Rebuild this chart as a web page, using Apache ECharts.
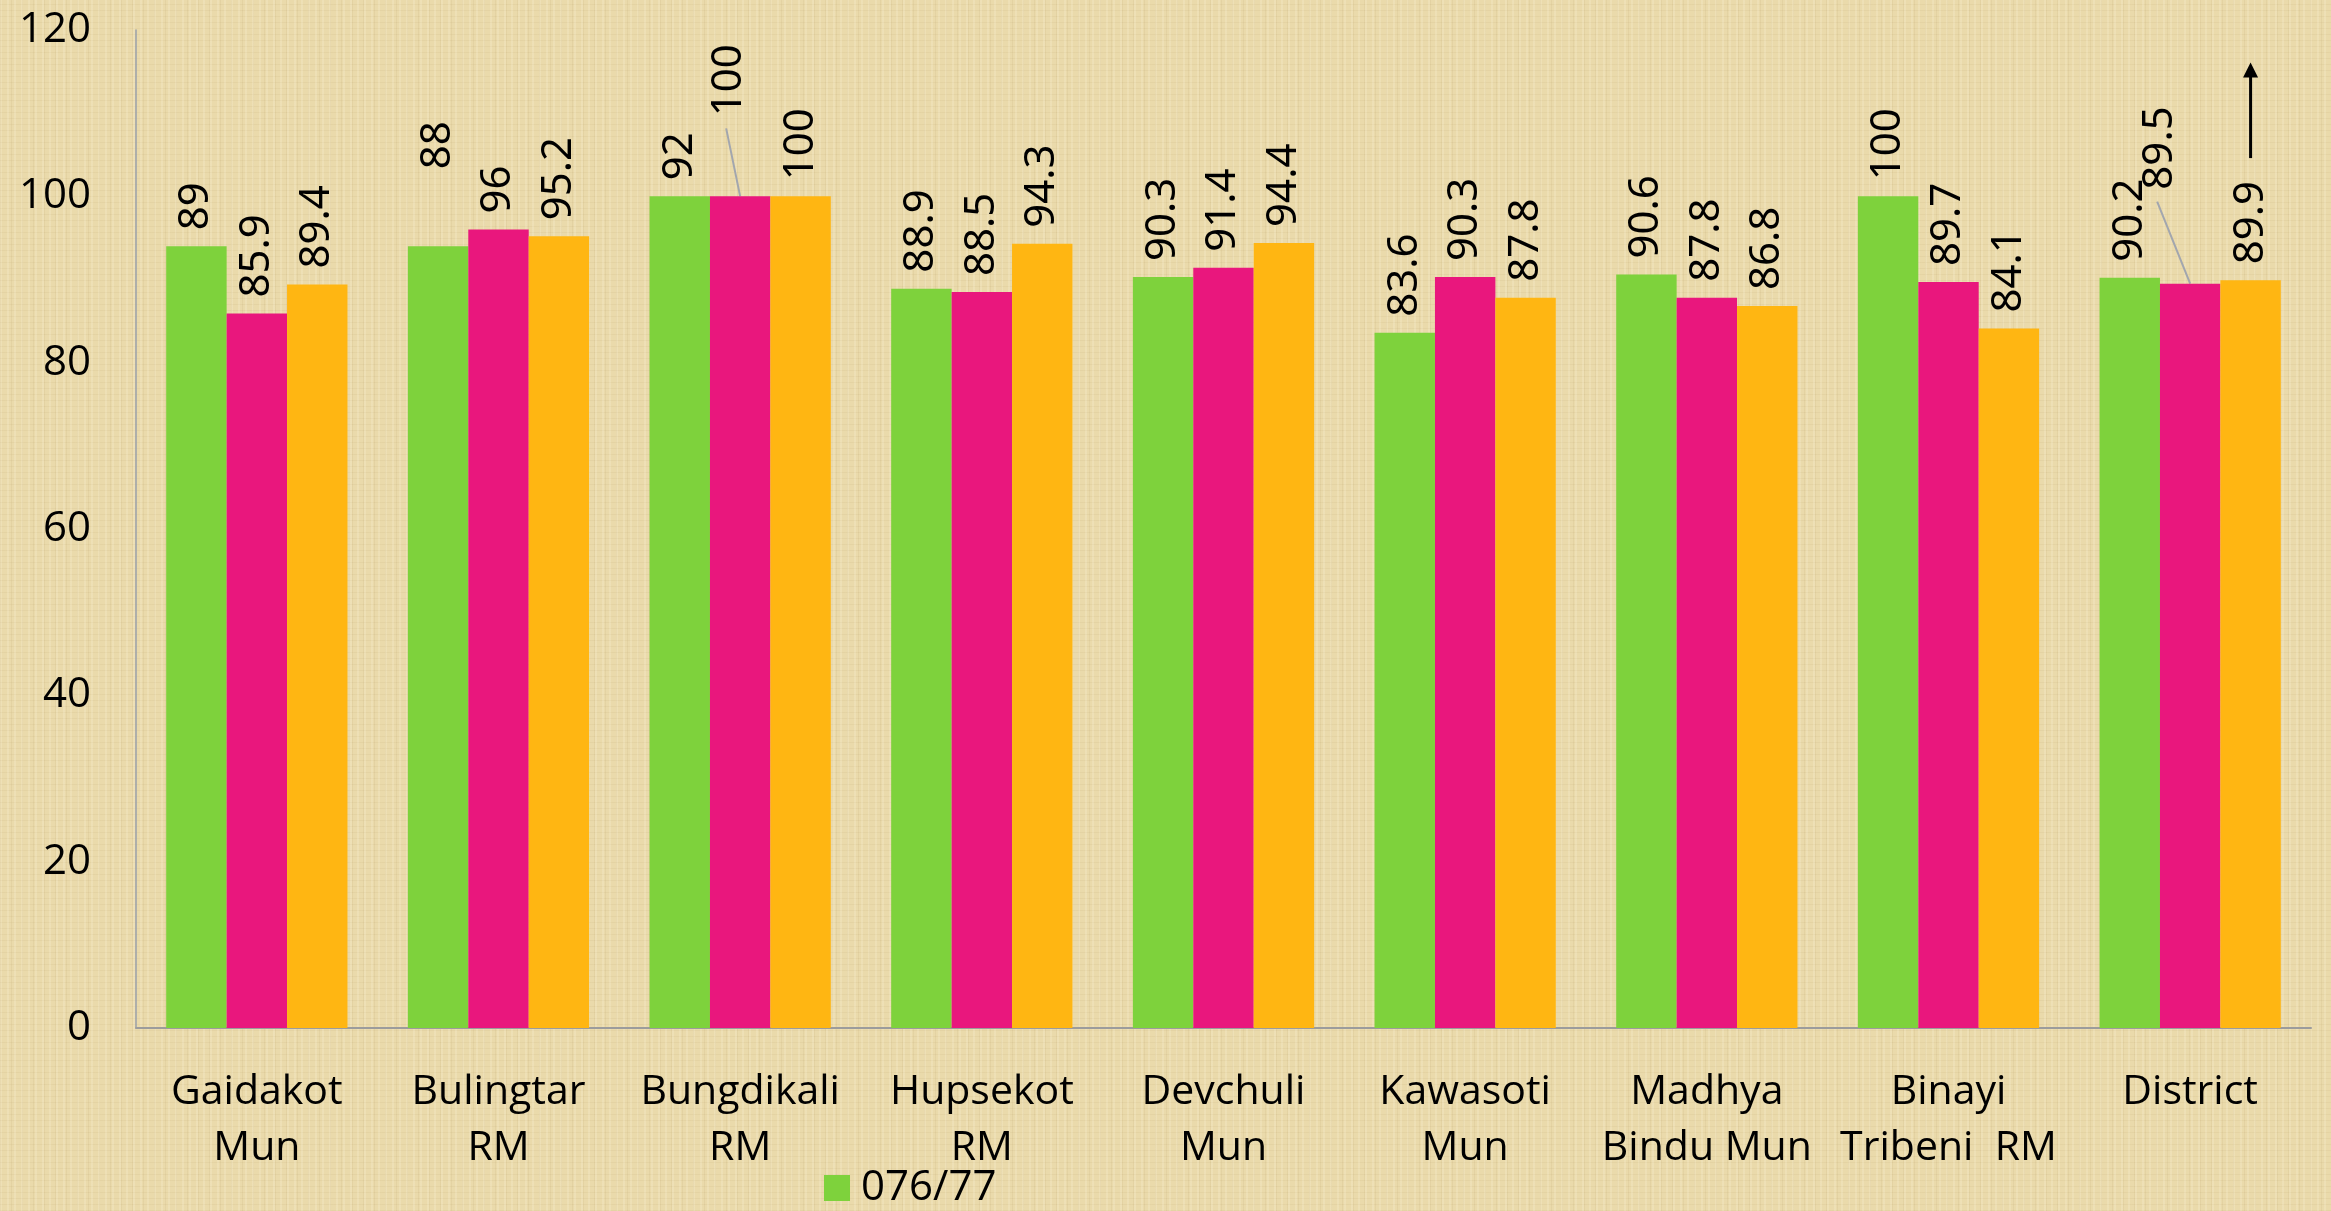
<!DOCTYPE html>
<html>
<head>
<meta charset="utf-8">
<title>Bar chart</title>
<script src="https://cdn.jsdelivr.net/npm/echarts@6/dist/echarts.min.js"></script>
<style>
  html, body {
    margin: 0;
    padding: 0;
    width: 2331px;
    height: 1211px;
    overflow: hidden;
  }
  body {
    background-color: #eadaab;
    background-image:
      repeating-linear-gradient(90deg, rgba(255, 250, 230, 0.18) 0 2px, transparent 2px 7px),
      repeating-linear-gradient(90deg, rgba(150, 120, 60, 0.08) 0 1px, transparent 1px 11px),
      repeating-linear-gradient(0deg, rgba(150, 120, 60, 0.07) 0 1px, transparent 1px 6px);
  }
  #myChart {
    width: 2331px;
    height: 1211px;
  }
</style>
</head>
<body>
<div id="myChart"></div>
<script>
// categories and values
const categories = [
  'Gaidakot\nMun', 'Bulingtar\nRM', 'Bungdikali\nRM', 'Hupsekot\nRM', 'Devchuli\nMun',
  'Kawasoti\nMun', 'Madhya\nBindu Mun', 'Binayi\nTribeni  RM', 'District'
]
const seriesNames = ['076/77', '077/78', '078/79']

// bar heights as drawn
const green = [94, 94, 100, 88.9, 90.3, 83.6, 90.6, 100, 90.2]
const magenta = [85.9, 96, 100, 88.5, 91.4, 90.3, 87.8, 89.7, 89.5]
const orange = [89.4, 95.2, 100, 94.3, 94.4, 87.8, 86.8, 84.1, 89.9]

// label texts (first three green labels differ from the bars in the picture)
const greenLabels = ['89', '88', '92', '88.9', '90.3', '83.6', '90.6', '100', '90.2']

const yTicks = [0, 20, 40, 60, 80, 100, 120]

// arrow above the District bar (value range)
const arrowFrom = 104.6
const arrowTo = 116.1

// labels that were dragged away from their bar: 'series-index' -> [screen dx, screen dy]
const labelMoves = {
  '0-1': [0, -61],
  '1-2': [-11, -64],
  '1-8': [-30, -78]
}
// which of the moved labels keep a leader line
const leaderLines = ['1-2', '1-8']

const colors = ['#7ed23c', '#e9177d', '#ffb612']
const labelDistance = 16

function barLabel (formatter) {
  let label = {
    show: true,
    position: 'top',
    rotate: 90,
    align: 'left',
    verticalAlign: 'middle',
    distance: labelDistance,
    fontFamily: 'Noto Sans',
    fontSize: 42,
    color: '#000'
  }
  if (formatter) {
    label.formatter = formatter
  }
  return label
}

// labels are rotated 90deg, so the layout offset works in the rotated frame
function moveLabel (params) {
  let m = labelMoves[params.seriesIndex + '-' + params.dataIndex]
  if (m) {
    return { dx: -m[1], dy: m[0] }
  }
  return {}
}

let myChart = echarts.init(document.getElementById('myChart'))

let options = {
  backgroundColor: 'transparent',
  animation: false,
  grid: {
    left: 136,
    right: 20,
    top: 30,
    bottom: 183,
    containLabel: false
  },
  legend: {
    data: [seriesNames[0]],
    left: 819,
    top: 1162,
    itemWidth: 26,
    itemHeight: 26,
    icon: 'rect',
    textStyle: {
      fontFamily: 'Open Sans',
      fontSize: 42,
      color: '#000',
      padding: [0, 0, 0, 6]
    }
  },
  xAxis: {
    type: 'category',
    data: categories,
    axisLine: { show: true, lineStyle: { color: '#9c9c9c', width: 2 } },
    axisTick: { show: false },
    axisLabel: {
      fontFamily: 'Open Sans',
      fontSize: 41,
      lineHeight: 56,
      color: '#000',
      margin: 36,
      interval: 0
    }
  },
  yAxis: {
    type: 'value',
    min: yTicks[0],
    max: yTicks[yTicks.length - 1],
    interval: yTicks[1] - yTicks[0],
    axisLine: { show: true, lineStyle: { color: '#9aa0aa', width: 1.5 } },
    axisTick: { show: false },
    splitLine: { show: false },
    axisLabel: {
      fontFamily: 'Open Sans',
      fontSize: 42,
      color: '#000',
      margin: 45
    }
  },
  series: [
    {
      name: seriesNames[0],
      type: 'bar',
      barGap: '0%',
      barCategoryGap: '25%',
      itemStyle: { color: colors[0] },
      label: barLabel(function (p) { return greenLabels[p.dataIndex] }),
      labelLayout: moveLabel,
      data: green
    },
    {
      name: seriesNames[1],
      type: 'bar',
      barGap: '0%',
      barCategoryGap: '25%',
      itemStyle: { color: colors[1] },
      label: barLabel(),
      labelLayout: moveLabel,
      data: magenta
    },
    {
      name: seriesNames[2],
      type: 'bar',
      barGap: '0%',
      barCategoryGap: '25%',
      itemStyle: { color: colors[2] },
      label: barLabel(),
      data: orange
    }
  ]
}

myChart.setOption(options)

function barLayout (seriesIndex, dataIndex) {
  let l = myChart.getModel().getSeriesByIndex(seriesIndex).getData().getItemLayout(dataIndex)
  return {
    cx: l.x + l.width / 2,
    top: Math.min(l.y, l.y + l.height)
  }
}

let graphics = []

// leader lines from the moved labels back to the top of their bar
leaderLines.forEach(function (key) {
  let parts = key.split('-')
  let b = barLayout(+parts[0], +parts[1])
  let m = labelMoves[key]
  graphics.push({
    type: 'line',
    shape: {
      x1: b.cx + m[0] - 3,
      y1: b.top - labelDistance + m[1] + 12,
      x2: b.cx,
      y2: b.top
    },
    style: { stroke: '#a2a6ae', lineWidth: 2 }
  })
})

// arrow over the last orange bar
let last = categories.length - 1
let ax = barLayout(2, last).cx
let y1 = myChart.convertToPixel({ yAxisIndex: 0 }, arrowFrom)
let y2 = myChart.convertToPixel({ yAxisIndex: 0 }, arrowTo)

graphics.push({
  type: 'line',
  shape: { x1: ax, y1: y1, x2: ax, y2: y2 + 12 },
  style: { stroke: '#000', lineWidth: 3 }
})
graphics.push({
  type: 'polygon',
  shape: { points: [[ax - 7.5, y2 + 15], [ax + 7.5, y2 + 15], [ax, y2]] },
  style: { fill: '#000' }
})

myChart.setOption({ graphic: graphics })
</script>
</body>
</html>
